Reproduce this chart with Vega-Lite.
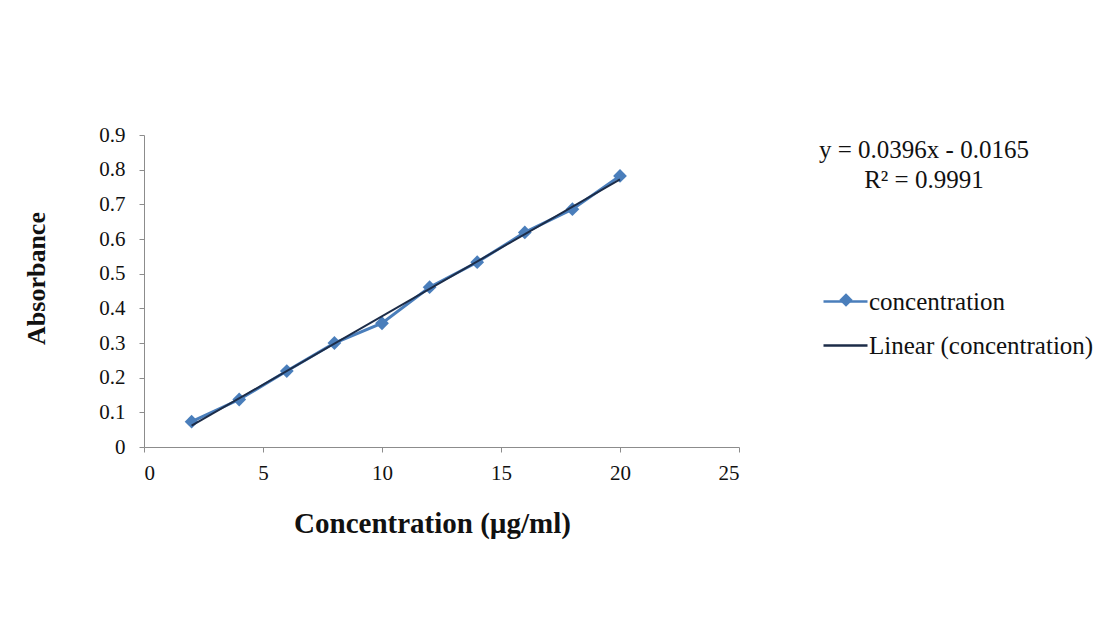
{
  "$schema": "https://vega.github.io/schema/vega-lite/v6.json",
  "width": 595,
  "height": 312,
  "autosize": {"type": "none"},
  "padding": {"left": 144, "top": 135, "right": 363, "bottom": 176},
  "background": "white",
  "config": {
    "font": "Liberation Serif",
    "view": {"stroke": null},
    "axis": {
      "grid": false,
      "domainColor": "#8c8c8c",
      "tickColor": "#8c8c8c",
      "tickSize": 5,
      "labelFont": "Liberation Serif",
      "labelFontSize": 21,
      "labelColor": "#111111",
      "titleFont": "Liberation Serif",
      "titleColor": "#111111",
      "titleFontWeight": "bold"
    }
  },
  "data": {
    "values": [
      {"conc": 2, "abs": 0.073},
      {"conc": 4, "abs": 0.137},
      {"conc": 6, "abs": 0.219},
      {"conc": 8, "abs": 0.300},
      {"conc": 10, "abs": 0.357},
      {"conc": 12, "abs": 0.461},
      {"conc": 14, "abs": 0.533},
      {"conc": 16, "abs": 0.619},
      {"conc": 18, "abs": 0.686},
      {"conc": 20, "abs": 0.782}
    ]
  },
  "encoding": {
    "x": {
      "field": "conc",
      "type": "quantitative",
      "scale": {"domain": [0, 25], "nice": false, "zero": false},
      "axis": {
        "values": [0, 5, 10, 15, 20, 25],
        "title": "Concentration (µg/ml)",
        "titleFontSize": 29,
        "labelPadding": 10,
        "titleX": 288,
        "titleY": 76,
        "titleBaseline": "middle",
        "titleAlign": "center"
      }
    },
    "y": {
      "field": "abs",
      "type": "quantitative",
      "scale": {"domain": [0, 0.9], "nice": false},
      "axis": {
        "values": [0, 0.1, 0.2, 0.3, 0.4, 0.5, 0.6, 0.7, 0.8, 0.9],
        "format": "~g",
        "title": "Absorbance",
        "titleFontSize": 26,
        "labelPadding": 14,
        "titleAngle": 270,
        "titleX": -108,
        "titleY": 143,
        "titleBaseline": "middle",
        "titleAlign": "center"
      }
    }
  },
  "layer": [
    {
      "mark": {"type": "line", "strokeWidth": 3},
      "encoding": {
        "color": {
          "datum": "concentration",
          "type": "nominal",
          "scale": {
            "domain": ["concentration", "Linear (concentration)"],
            "range": ["#4a7ebb", "#1c2c48"]
          },
          "legend": {
            "orient": "none",
            "legendX": 678,
            "legendY": 143,
            "title": null,
            "symbolType": "stroke",
            "symbolSize": 1936,
            "symbolStrokeWidth": 2.5,
            "rowPadding": 7,
            "labelFont": "Liberation Serif",
            "labelFontSize": 25,
            "labelColor": "#111111",
            "labelOffset": 0,
            "labelLimit": 400
          }
        }
      }
    },
    {
      "mark": {"type": "point", "shape": "diamond", "filled": true, "size": 190, "opacity": 1, "color": "#4a7ebb"},
      "encoding": {
        "shape": {
          "datum": "concentration",
          "type": "nominal",
          "scale": {"domain": ["concentration"], "range": ["diamond"]},
          "legend": {
            "orient": "none",
            "legendX": 695,
            "legendY": 158,
            "title": null,
            "symbolSize": 180,
            "symbolFillColor": "#4a7ebb",
            "symbolStrokeColor": "#4a7ebb",
            "symbolStrokeWidth": 0,
            "labelExpr": "''",
            "labelFontSize": 1
          }
        }
      }
    },
    {
      "transform": [{"regression": "abs", "on": "conc", "method": "linear"}],
      "mark": {"type": "line", "strokeWidth": 2},
      "encoding": {
        "color": {"datum": "Linear (concentration)", "type": "nominal"}
      }
    },
    {
      "transform": [{"filter": "datum.conc == 20"}],
      "mark": {
        "type": "text",
        "text": ["y = 0.0396x - 0.0165", "R² = 0.9991"],
        "font": "Liberation Serif",
        "fontSize": 25,
        "fontWeight": "normal",
        "lineHeight": 30,
        "align": "center",
        "baseline": "top",
        "color": "#111111"
      },
      "encoding": {
        "x": {"datum": 32.77, "type": "quantitative"},
        "y": {"datum": 0.89, "type": "quantitative"}
      }
    }
  ]
}
